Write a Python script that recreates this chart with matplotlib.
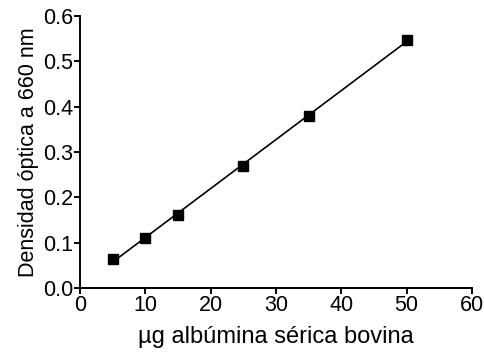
import numpy as np
import matplotlib
matplotlib.use('Agg')
from matplotlib import pyplot as plt

plt.rcParams['font.family'] = ['Liberation Sans', 'DejaVu Sans']

ug = [5, 10, 15, 25, 35, 50]
absorb = [0.065, 0.11, 0.16, 0.27, 0.38, 0.547]
xticks = [0, 10, 20, 30, 40, 50, 60]
yticks = [0.0, 0.1, 0.2, 0.3, 0.4, 0.5, 0.6]

fig = plt.figure(figsize=(4.85, 3.53), dpi=100)
ax = fig.add_axes([0.165, 0.184, 0.808, 0.771])

# recta de calibrado
m, b = np.polyfit(ug, absorb, 1)
xl = np.array([ug[0], ug[-1]])
ax.plot(xl, m * xl + b, color='black', lw=1.2)
ax.plot(ug, absorb, 's', color='black', ms=7.5)

ax.set_xlim(0, 60)
ax.set_ylim(0, 0.6)
ax.set_xticks(xticks)
ax.set_yticks(yticks)
ax.set_yticklabels(['%.1f' % v for v in yticks])
ax.spines['top'].set_visible(False)
ax.spines['right'].set_visible(False)
for s in ['left', 'bottom']:
    ax.spines[s].set_linewidth(1.4)
ax.tick_params(direction='out', length=4, width=1.4, labelsize=15.5, pad=1)
ax.set_xlabel('µg albúmina sérica bovina', fontsize=17, labelpad=7)
ax.set_ylabel('Densidad óptica a 660 nm', fontsize=15.5, labelpad=3)

fig.savefig('out.png', dpi=100)
